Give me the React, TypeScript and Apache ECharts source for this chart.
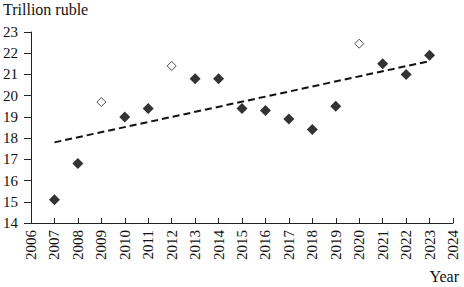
import React, { useEffect, useRef } from "react";
import * as echarts from "echarts";

const filledYears = [2007, 2008, 2010, 2011, 2013, 2014, 2015, 2016, 2017, 2018, 2019, 2021, 2022, 2023];
const filledValues = [15.1, 16.8, 19.0, 19.4, 20.8, 20.8, 19.4, 19.3, 18.9, 18.4, 19.5, 21.5, 21.0, 21.9];
const hollowYears = [2009, 2012, 2020];
const hollowValues = [19.7, 21.4, 22.45];
const trendYears = [2007, 2023];
const trendValues = [17.8, 21.63];

const FONT = "'Liberation Serif', 'Times New Roman', serif";
const TEXT = "#111";

export default function App() {
  const ref = useRef<HTMLDivElement>(null);
  useEffect(() => {
    if (!ref.current) return;
    const chart = echarts.init(ref.current, undefined, { renderer: "svg" });
    chart.setOption({
      animation: false,
      backgroundColor: "#ffffff",
      grid: { left: 28, right: 11, top: 32, bottom: 64, containLabel: false },
      xAxis: {
        type: "value",
        min: 2006,
        max: 2024,
        interval: 1,
        axisLine: { show: true, lineStyle: { color: "#222", width: 1 } },
        axisTick: { show: true, inside: true, length: 5, lineStyle: { color: "#222" } },
        splitLine: { show: false },
        axisLabel: {
          rotate: 90,
          margin: 7,
          color: TEXT,
          fontFamily: FONT,
          fontSize: 15,
          formatter: (v: number) => String(v),
        },
      },
      yAxis: {
        type: "value",
        min: 14,
        max: 23,
        interval: 1,
        axisLine: { show: true, lineStyle: { color: "#222", width: 1 } },
        axisTick: { show: true, inside: false, length: 7, lineStyle: { color: "#222" } },
        splitLine: { show: false },
        axisLabel: {
          margin: 13,
          color: TEXT,
          fontFamily: FONT,
          fontSize: 15,
        },
      },
      series: [
        {
          type: "line",
          data: trendYears.map((y, i) => [y, trendValues[i]]),
          symbol: "none",
          lineStyle: { color: "#111", width: 2, type: [7, 4] },
          z: 1,
        },
        {
          type: "scatter",
          data: filledYears.map((y, i) => [y, filledValues[i]]),
          symbol: "diamond",
          symbolSize: 11,
          itemStyle: { color: "#000" },
          z: 3,
        },
        {
          type: "scatter",
          data: hollowYears.map((y, i) => [y, hollowValues[i]]),
          symbol: "diamond",
          symbolSize: 9,
          itemStyle: { color: "#ffffff", borderColor: "#222", borderWidth: 1 },
          z: 3,
        },
      ],
      graphic: [
        {
          type: "text",
          left: 3,
          top: 1,
          style: { text: "Trillion ruble", font: `16px ${FONT}`, fill: TEXT },
        },
        {
          type: "text",
          right: 5,
          top: 268,
          style: { text: "Year", font: `16px ${FONT}`, fill: TEXT },
        },
      ],
    });
    return () => chart.dispose();
  }, []);
  return (
    <div
      ref={ref}
      style={{ position: "fixed", left: 0, top: 0, width: 464, height: 287, background: "#fff" }}
    />
  );
}
